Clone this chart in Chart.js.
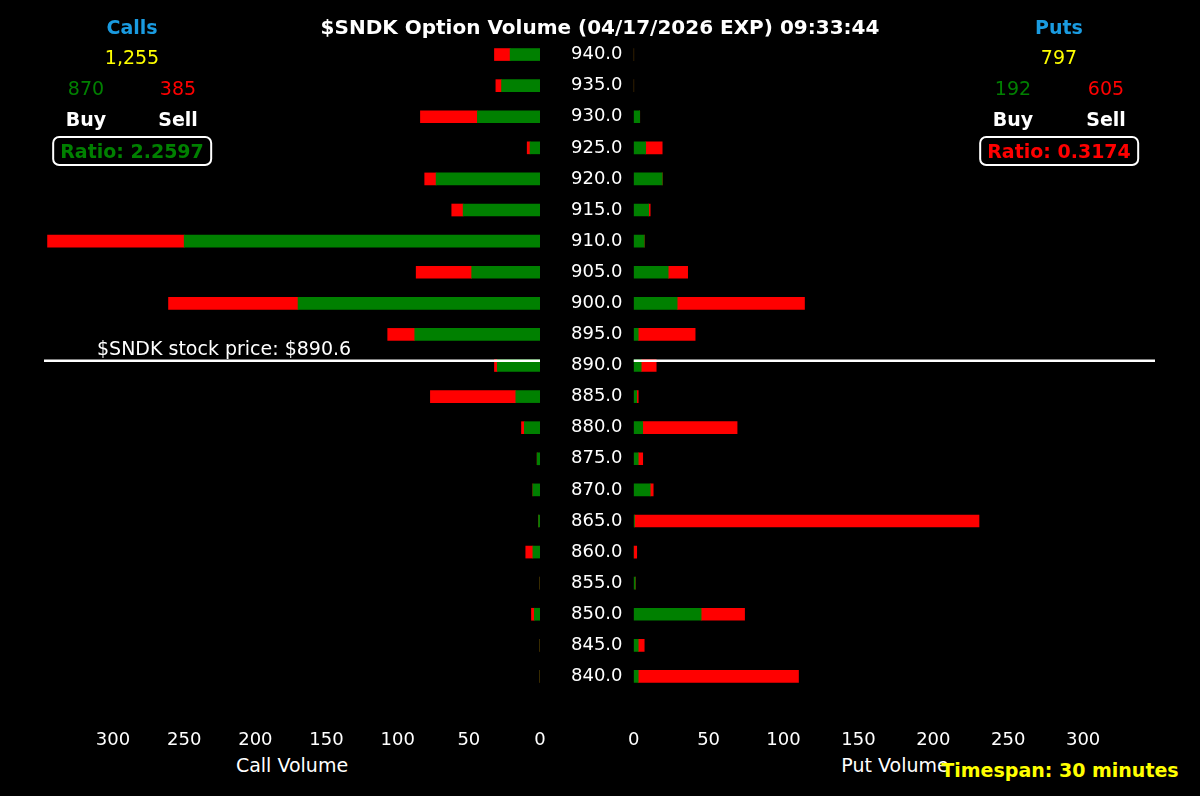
<!DOCTYPE html>
<html>
<head>
<meta charset="utf-8">
<script src="https://cdn.jsdelivr.net/npm/chart.js@4/dist/chart.umd.min.js"></script>
<style>
body { margin: 0; background: #000; width: 1200px; height: 796px; overflow: hidden; position: relative; font-family: "DejaVu Sans", sans-serif; }
.t { position: absolute; transform: translate(-50%, -50%); white-space: nowrap; font-size: 19px; }
.b { font-weight: bold; }
.box { border: 2px solid #fff; border-radius: 7px; padding: 2px 6px; }
canvas { position: absolute; }
</style>
</head>
<body>
<canvas id="calls" width="634" height="754" style="left:0;top:0;width:634px;height:754px"></canvas>
<canvas id="puts" width="602" height="754" style="left:598px;top:0;width:602px;height:754px"></canvas>

<div class="t b" style="left:600px;top:27px;color:#fff;font-size:20px">$SNDK Option Volume (04/17/2026 EXP) 09:33:44</div>
<div class="t b" style="left:132px;top:27px;color:#1a9be0">Calls</div>
<div class="t" style="left:132px;top:57px;color:#ffff00">1,255</div>
<div class="t" style="left:86px;top:88px;color:#008000">870</div>
<div class="t" style="left:178px;top:88px;color:#ff0000">385</div>
<div class="t b" style="left:86px;top:119px;color:#fff">Buy</div>
<div class="t b" style="left:178px;top:119px;color:#fff">Sell</div>
<div class="t b box" style="left:132px;top:151px;color:#008000">Ratio: 2.2597</div>

<div class="t b" style="left:1059px;top:27px;color:#1a9be0">Puts</div>
<div class="t" style="left:1059px;top:57px;color:#ffff00">797</div>
<div class="t" style="left:1013px;top:88px;color:#008000">192</div>
<div class="t" style="left:1106px;top:88px;color:#ff0000">605</div>
<div class="t b" style="left:1013px;top:119px;color:#fff">Buy</div>
<div class="t b" style="left:1106px;top:119px;color:#fff">Sell</div>
<div class="t b box" style="left:1059px;top:151px;color:#ff0000">Ratio: 0.3174</div>

<div class="t" style="left:292px;top:765px;color:#fff">Call Volume</div>
<div class="t" style="left:895px;top:765px;color:#fff">Put Volume</div>
<div class="t b" style="left:1060px;top:770px;color:#ffff00">Timespan: 30 minutes</div>

<script>
const strikes = ['940.0','935.0','930.0','925.0','920.0','915.0','910.0','905.0','900.0','895.0','890.0',
  '885.0','880.0','875.0','870.0','865.0','860.0','855.0','850.0','845.0','840.0'];
const callBuy  = [21, 27, 44, 7, 73, 54, 250, 48, 170, 88, 30, 17, 11, 2, 5, 1, 5, 0, 4, 0, 0];
const callSell = [11, 4, 40, 2, 8, 8, 96, 39, 91, 19, 2, 60, 2, 0, 0, 0, 5, 0, 2, 0, 0];
const putBuy   = [0, 0, 4, 8, 19, 10, 7, 23, 29, 3, 5, 2, 6, 3, 11, 0.5, 0, 1, 45, 3, 3];
const putSell  = [0, 0, 0, 11, 0, 1, 0, 13, 85, 38, 10, 1, 63, 3, 2, 230, 2, 0, 29, 4, 107];
const xTicks = [0, 50, 100, 150, 200, 250, 300];
const stockPrice = 890.6;

Chart.defaults.font.family = '"DejaVu Sans", sans-serif';
Chart.defaults.color = '#fff';

// y position of price inside the category scale (5-point strike spacing)
function priceIndex() {
  return (940 - stockPrice) / 5;
}

function priceLine(x1, label) {
  return {
    id: 'priceLine',
    afterDatasetsDraw(chart) {
      const ctx = chart.ctx;
      const y = chart.scales.y.getPixelForValue(priceIndex()) - 1;
      const a = chart.chartArea;
      ctx.save();
      ctx.strokeStyle = '#fff';
      ctx.lineWidth = 2.5;
      ctx.beginPath();
      ctx.moveTo(a.left, y);
      ctx.lineTo(a.right + x1, y);
      ctx.stroke();
      if (label) {
        ctx.fillStyle = '#fff';
        ctx.font = '19px "DejaVu Sans", sans-serif';
        ctx.textBaseline = 'bottom';
        ctx.fillText(label, a.left + 53, y - 1);
      }
      ctx.restore();
    }
  };
}

function makeChart(id, buy, sell, isCalls, max) {
  return new Chart(document.getElementById(id), {
    type: 'bar',
    data: {
      labels: strikes,
      datasets: [
        { label: 'Buy', data: buy, backgroundColor: '#008000', barThickness: 12 },
        { label: 'Sell', data: sell, backgroundColor: '#ff0000', barThickness: 12 }
      ]
    },
    options: {
      indexAxis: 'y',
      responsive: false,
      animation: false,
      layout: { padding: isCalls ? { left: 44, top: 39 } : { left: 0, right: 42, top: 39 } },
      plugins: { legend: { display: false }, tooltip: { enabled: false } },
      scales: {
        x: {
          stacked: true, reverse: isCalls, min: 0, max: max,
          grid: { display: false }, border: { display: false },
          ticks: { font: { size: 18 }, padding: 30, maxRotation: 0 },
          afterBuildTicks(s) { s.ticks = xTicks.map(v => ({ value: v })); },
          afterFit(s) { s.height = 62; }
        },
        y: {
          stacked: true, display: isCalls, position: 'right',
          grid: { display: false }, border: { display: false },
          ticks: { font: { size: 18 }, padding: 23 },
          afterFit(s) { s.width = isCalls ? 94 : 0; }
        }
      }
    },
    plugins: [isCalls ? priceLine(0, '$SNDK stock price: $' + stockPrice) : priceLine(-3, null)]
  });
}

const callChart = makeChart('calls', callBuy, callSell, true, 348.5);
const putChart = makeChart('puts', putBuy, putSell, false, 350);
</script>
</body>
</html>
